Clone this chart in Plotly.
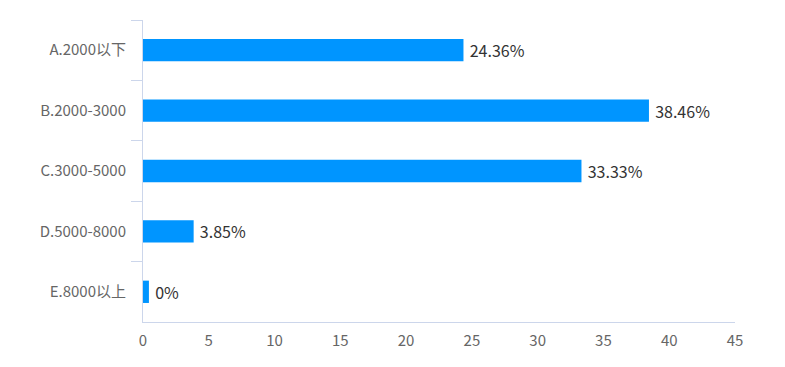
import plotly.graph_objects as go

categories = ["A.2000以下", "B.2000-3000", "C.3000-5000", "D.5000-8000", "E.8000以上"]
values = [24.36, 38.46, 33.33, 3.85, 0]
labels = ["24.36%", "38.46%", "33.33%", "3.85%", "0%"]
x_ticks = [0, 5, 10, 15, 20, 25, 30, 35, 40, 45]

# minimum visible bar length (like a chart library's min bar size)
display_values = [max(v, 0.45) for v in values]

axis_color = "#ccd6eb"
font_family = "Noto Sans CJK SC, Microsoft YaHei, sans-serif"

fig = go.Figure(
    go.Bar(
        x=display_values,
        y=categories,
        orientation="h",
        marker=dict(color="#0095ff", line=dict(width=0)),
        text=labels,
        texttemplate="\u2009%{text}",
        textposition="outside",
        constraintext="none",
        textfont=dict(size=16, color="#333333", family=font_family),
        cliponaxis=False,
        hoverinfo="skip",
    )
)

fig.update_layout(
    width=769,
    height=351,
    margin=dict(l=135, r=42, t=12, b=37, autoexpand=False),
    paper_bgcolor="white",
    plot_bgcolor="white",
    bargap=0.63,
    showlegend=False,
    font=dict(family=font_family),
)

fig.update_xaxes(
    range=[0, 45],
    tickvals=x_ticks,
    ticktext=[str(t) for t in x_ticks],
    showgrid=False,
    zeroline=False,
    showline=True,
    linecolor=axis_color,
    linewidth=1,
    ticks="",
    automargin=False,
    ticklabelstandoff=5,
    tickfont=dict(size=15, color="#666666", family=font_family),
)

fig.update_yaxes(
    autorange="reversed",
    showgrid=False,
    zeroline=False,
    showline=True,
    linecolor=axis_color,
    linewidth=1,
    ticks="outside",
    tickson="boundaries",
    ticklen=11,
    tickcolor=axis_color,
    automargin=False,
    ticklabelstandoff=13,
    tickfont=dict(size=15, color="#666666", family=font_family),
)

fig.write_html("out.html")
